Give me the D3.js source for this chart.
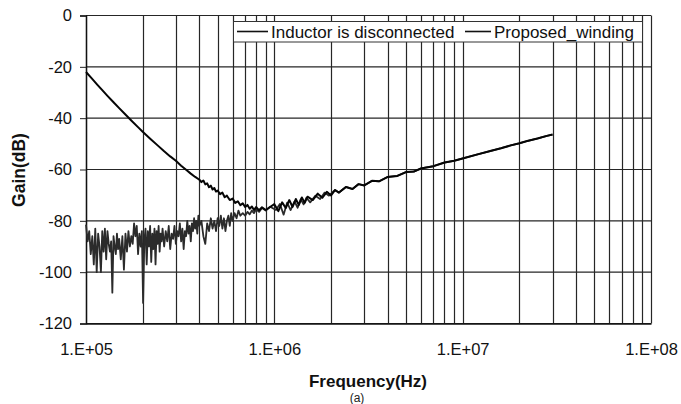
<!DOCTYPE html>
<html>
<head>
<meta charset="utf-8">
<script src="https://cdn.jsdelivr.net/npm/d3@7"></script>
<style>
    body { margin: 0; background: #fff; }
    svg { display: block; font-family: Arial, "Liberation Sans", sans-serif; }
</style>
</head>
<body>
<svg id="chart" width="681" height="404"></svg>
<script>
// freq in kHz, gain in dB
const seriesNames = ["Inductor is disconnected", "Proposed_winding"];

const discFreq = [100, 107, 115, 122, 130, 140, 150, 160, 175, 190,
    200, 220, 240, 260, 280, 300, 320, 340, 360, 380,
    400, 410, 420, 430, 440, 450, 460, 470, 480, 490,
    500, 515, 530, 545, 560, 580, 600, 620, 640, 660,
    680, 700, 720, 740, 760, 780, 800, 830, 860, 900, 950,
    1000, 1050, 1100, 1150, 1200, 1250, 1300, 1350, 1400, 1450, 1500, 1600, 1700, 1800, 1900, 2000];
const discGain = [-22.0, -24.4, -27.0, -29.1, -31.3, -33.8, -36.1, -38.2, -41.1, -43.7,
    -45.3, -48.1, -50.6, -52.9, -54.9, -56.6, -58.5, -60.1, -61.6, -62.9,
    -64.0, -64.9, -64.3, -65.8, -65.4, -66.9, -66.3, -67.8, -67.2, -68.6,
    -68.2, -69.6, -69.0, -70.8, -70.2, -71.9, -71.3, -73.0, -72.4, -73.9,
    -73.2, -74.6, -73.8, -75.3, -74.4, -75.8, -74.6, -75.9, -74.7, -75.8, -74.6,
    -73.5, -76.2, -72.8, -75.0, -71.9, -74.6, -71.5, -73.8, -70.9, -73.0, -70.6, -71.9, -69.4, -71.0, -68.7, -70.1];

const propFreq = [100, 102, 104, 106, 108, 110, 112, 114, 116, 118,
    120, 122, 124, 126, 128, 130, 132, 134, 136, 138,
    140, 142, 144, 146, 148, 150,
    153, 156, 159, 162, 165, 168, 171, 174, 177, 180,
    183, 186, 189, 192, 195, 198, 201, 204, 207, 210,
    213, 216, 219, 222, 225, 228, 231, 234, 237, 240,
    243, 246, 249, 252,
    255, 260, 265, 270, 275, 280, 285, 290, 295, 300,
    305, 310, 315, 320, 325, 330, 335, 340, 345, 350,
    355, 360, 365, 370, 375, 380, 385, 390, 395, 400,
    410, 420, 430, 440, 450, 460, 470, 480, 490, 500,
    510, 520, 530, 540, 550, 560, 570, 580, 590, 600,
    615, 630, 645, 660, 680, 700, 720, 740, 760, 780,
    800, 830, 860, 900, 950,
    1020, 1070, 1120, 1170, 1220, 1280, 1330, 1380, 1430, 1480, 1550, 1650, 1750, 1850, 1950];
const propGain = [-81.5, -88, -84, -93, -86, -97, -83, -100, -85, -90,
    -100, -84, -92, -83, -95, -84, -89, -92, -88, -108,
    -86, -90, -93, -85, -91, -87,
    -95, -86, -99, -85, -92, -84, -90, -86, -89, -81,
    -86, -82, -93, -85, -90, -84, -112, -88, -83, -97,
    -84, -90, -82, -96, -85, -91, -83, -97, -84, -89,
    -82, -92, -85, -88,
    -83, -90, -84, -88, -82, -91, -85, -87, -82, -89,
    -84, -86, -81, -88, -83, -91, -84, -86, -80, -85,
    -82, -88, -81, -84, -79, -83, -80, -85, -78, -82,
    -80, -86, -89, -81, -84, -79, -83, -80, -84, -79,
    -82, -78, -83, -79, -84, -80, -78, -82, -77, -80,
    -77, -79, -76, -78, -77, -78, -76.5, -77.5, -76, -77,
    -75.5, -76.5, -75, -76, -74.5,
    -75.8, -73.4, -77.6, -72.9, -75.8, -72.4, -74.9, -71.6, -73.6, -71.0, -72.8, -70.2, -71.5, -69.0, -70.2];

// high-frequency part, both traces lie on top of each other
const tailFreq = [2100, 2200, 2400, 2600, 2800, 3000, 3300, 3600, 4000, 4500,
    5000, 5500, 6000, 7000, 8000, 9000, 10000, 12000, 14000, 16000,
    18000, 20000, 22000, 25000, 28000, 30000];
const tailGain = [-68.0, -69.0, -66.8, -67.6, -65.7, -66.2, -64.4, -64.6, -62.9, -62.5,
    -61.0, -60.8, -59.6, -58.7, -57.3, -56.6, -55.7, -54.1, -52.8, -51.7,
    -50.6, -49.8, -48.9, -47.9, -46.9, -46.4];

const freqTicks = [1e5, 1e6, 1e7, 1e8];
const gainTicks = [-120, -100, -80, -60, -40, -20, 0];

const svg = d3.select("#chart");
const x = d3.scaleLog().domain([1e5, 1e8]).range([86, 651]);
const y = d3.scaleLinear().domain([-120, 0]).range([323.5, 15.5]);

// grid
const grid = svg.append("g").attr("class", "grid");
grid.selectAll(".vg").data(x.ticks()).join("line").classed("vg", true)
    .attr("x1", d => Math.round(x(d)) + 0.5).attr("x2", d => Math.round(x(d)) + 0.5)
    .attr("y1", y(0)).attr("y2", y(-120))
    .attr("style", "stroke:#262626; stroke-width:1.2");
grid.selectAll(".hg").data(gainTicks).join("line").classed("hg", true)
    .attr("x1", x(1e5)).attr("x2", x(1e8))
    .attr("y1", d => y(d)).attr("y2", d => y(d))
    .attr("style", "stroke:#262626; stroke-width:1.2");

// axes
const yAxis = svg.append("g").attr("transform", "translate(" + x(1e5) + ",0)")
    .call(d3.axisLeft(y).tickValues(gainTicks).tickSize(6).tickPadding(8)
        .tickFormat(d => String(d)));
yAxis.select(".domain").attr("style", "stroke:#111; stroke-width:1.4");
yAxis.selectAll("line").attr("style", "stroke:#222");
yAxis.selectAll("text").attr("style", "font-size:16.5px; fill:#111");

const xAxis = svg.append("g").attr("transform", "translate(0," + y(-120) + ")")
    .call(d3.axisBottom(x).tickValues(freqTicks).tickSize(0).tickPadding(20)
        .tickFormat(d => "1.E+0" + Math.round(Math.log10(d))));
xAxis.select(".domain").attr("style", "stroke:#111; stroke-width:1.4");
xAxis.selectAll("text").attr("style", "font-size:16.5px; fill:#111");

// curves
const line = d3.line().x(d => x(d[0] * 1e3)).y(d => y(d[1]));
const propPts = d3.zip(propFreq.concat(tailFreq), propGain.concat(tailGain));
const discPts = d3.zip(discFreq.concat(tailFreq), discGain.concat(tailGain));
svg.append("path").datum(propPts).attr("d", line)
    .attr("style", "fill:none; stroke:#2b2b2b; stroke-width:1.8; stroke-linejoin:round");
svg.append("path").datum(discPts).attr("d", line)
    .attr("style", "fill:none; stroke:#050505; stroke-width:2; stroke-linejoin:round");

// legend
const leg = svg.append("g");
leg.append("rect").attr("x", 233.5).attr("y", 21.5).attr("width", 409).attr("height", 20.5)
    .attr("style", "fill:#fff; stroke:#333; stroke-width:1");
const legItems = [{ x1: 237, x2: 268, tx: 271 }, { x1: 465, x2: 491, tx: 494 }];
leg.selectAll(".ll").data(legItems).join("line").classed("ll", true)
    .attr("x1", d => d.x1).attr("x2", d => d.x2).attr("y1", 31.5).attr("y2", 31.5)
    .attr("style", "stroke:#111; stroke-width:1.6");
leg.selectAll(".lt").data(legItems).join("text").classed("lt", true)
    .attr("x", d => d.tx).attr("y", 37.5)
    .attr("style", "font-size:17px; fill:#111")
    .text((d, i) => seriesNames[i]);

// titles
svg.append("text").attr("transform", "translate(25,170) rotate(-90)")
    .attr("text-anchor", "middle")
    .attr("style", "font-size:17.5px; font-weight:bold; fill:#111")
    .text("Gain(dB)");
svg.append("text").attr("x", 368).attr("y", 387).attr("text-anchor", "middle")
    .attr("style", "font-size:17px; font-weight:bold; fill:#111")
    .text("Frequency(Hz)");
svg.append("text").attr("x", 357).attr("y", 402).attr("text-anchor", "middle")
    .attr("style", "font-size:12px; fill:#222")
    .text("(a)");
</script>
</body>
</html>
